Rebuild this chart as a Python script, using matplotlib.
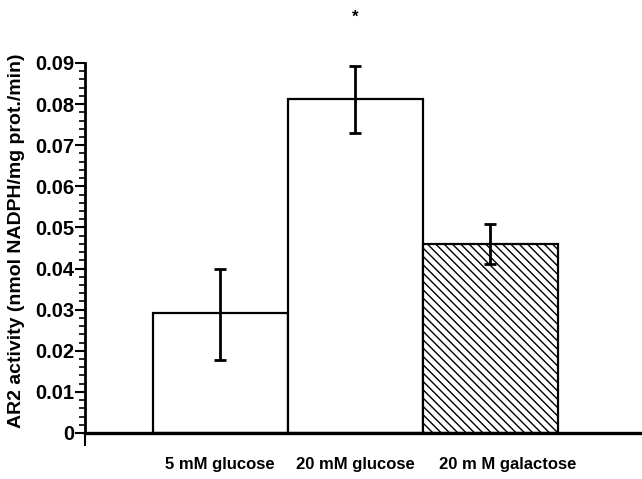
import matplotlib
matplotlib.use("Agg")
import matplotlib.pyplot as plt
from matplotlib.ticker import MultipleLocator, FixedLocator, NullFormatter
from matplotlib.transforms import ScaledTranslation

categories = ["5 mM glucose", "20 mM glucose", "20 m M galactose"]
values = [0.0292, 0.0813, 0.0460]
err_low = [0.0114, 0.0083, 0.0049]
err_high = [0.0108, 0.0080, 0.0049]
hatches = ["", "", "\\\\\\\\"]
yticks = [0, 0.01, 0.02, 0.03, 0.04, 0.05, 0.06, 0.07, 0.08, 0.09]
ytick_labels = ["0", "0.01", "0.02", "0.03", "0.04", "0.05", "0.06", "0.07", "0.08", "0.09"]
star_label = "*"
star_index = 1
ylabel = "AR2 activity (nmol NADPH/mg prot./min)"

plt.rcParams['font.family'] = ['Liberation Sans', 'DejaVu Sans']
plt.rcParams['hatch.linewidth'] = 1.0

fig = plt.figure(figsize=(6.42, 4.79), dpi=100)
ax = fig.add_axes([85/642, 46/479, 555/642, 370/479])

xpos = [1, 2, 3]
ax.bar(xpos, values, width=1.0, color="white", edgecolor="black",
       linewidth=1.6, hatch=hatches, zorder=2)
ax.errorbar(xpos, values, yerr=[err_low, err_high], fmt="none", ecolor="black",
            elinewidth=2.0, capsize=4, capthick=2.0, zorder=3)

ax.text(xpos[star_index], 0.1012, star_label, ha="center", va="center",
        fontsize=12, fontweight="bold", clip_on=False)

ax.set_xlim(0, 4.11)
ax.set_ylim(0, 0.09)

for s in ["top", "right"]:
    ax.spines[s].set_visible(False)
ax.spines["left"].set_linewidth(2.0)
ax.spines["bottom"].set_linewidth(2.4)

ax.set_yticks(yticks)
ax.set_yticklabels(ytick_labels, fontsize=14.5, fontweight="bold")
ax.yaxis.set_minor_locator(MultipleLocator(0.002))
ax.tick_params(axis="y", which="major", direction="out", length=7, width=1.5, pad=1)
ax.tick_params(axis="y", which="minor", direction="out", length=4, width=1.2)

ax.xaxis.set_major_locator(FixedLocator([0]))
ax.xaxis.set_major_formatter(NullFormatter())
ax.tick_params(axis="x", which="major", direction="out", length=9, width=1.5)
ax.xaxis.set_minor_locator(FixedLocator(xpos))
ax.set_xticklabels(categories, minor=True, fontsize=12, fontweight="bold")
ax.tick_params(axis="x", which="minor", length=0, pad=17)

# the third label sits slightly to the right in the reference
lbls = ax.get_xticklabels(minor=True)
lbls[2].set_transform(lbls[2].get_transform() + ScaledTranslation(18/100, 0, fig.dpi_scale_trans))

ax.set_ylabel(ylabel, fontsize=14, fontweight="bold")
ax.yaxis.set_label_coords(-0.108, 0.52)

fig.savefig("out.png", dpi=100)
